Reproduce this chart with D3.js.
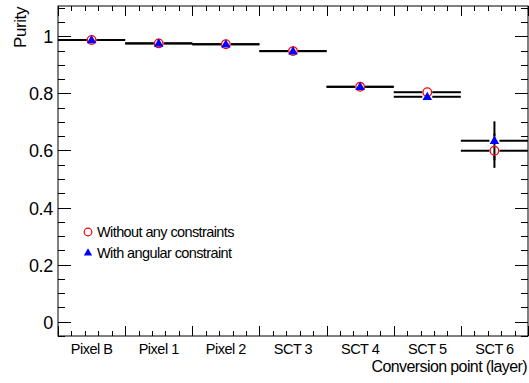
<!DOCTYPE html>
<html>
<head>
<meta charset="utf-8">
<script src="https://cdn.jsdelivr.net/npm/d3@7"></script>
<style>
  html, body { margin: 0; padding: 0; background: #fff; }
  svg { display: block; font-family: "Liberation Sans", Arial, Helvetica, sans-serif; }
</style>
</head>
<body>
<svg id="chart" width="529" height="383"></svg>
<script>
// Conversion layers
const layers = ["Pixel B", "Pixel 1", "Pixel 2", "SCT 3", "SCT 4", "SCT 5", "SCT 6"];
// Purity without any constraints
const purityNoConstraint = [0.987, 0.975, 0.972, 0.948, 0.823, 0.804, 0.599];
const errNoConstraint    = [0.002, 0.002, 0.002, 0.003, 0.005, 0.006, 0.060];
// Purity with angular constraint
const purityAngular = [0.987, 0.975, 0.972, 0.948, 0.823, 0.788, 0.634];
const errAngular    = [0.002, 0.002, 0.002, 0.003, 0.005, 0.006, 0.068];
const yTicks = [0, 0.2, 0.4, 0.6, 0.8, 1];
const yTickLabels = ["0", "0.2", "0.4", "0.6", "0.8", "1"];

const svg = d3.select("#chart");
const m = { left: 58, right: 528, top: 6, bottom: 336 };

const x = d3.scaleLinear().domain([0, layers.length]).range([m.left, m.right]);
const y = d3.scaleLinear().domain([-0.05, 1.106]).range([m.bottom, m.top]);

// Frame
svg.append("rect")
  .attr("x", m.left).attr("y", m.top)
  .attr("width", m.right - m.left).attr("height", m.bottom - m.top)
  .attr("fill", "none").attr("stroke", "#000").attr("stroke-width", 1);

// X ticks (bottom and top), 5 subdivisions per bin
const xMinor = d3.range(0, layers.length * 5 + 1).map(i => i / 5);
const tickG = svg.append("g").attr("stroke", "#000").attr("stroke-width", 1);
xMinor.forEach(v => {
  const major = Math.abs(v - Math.round(v)) < 1e-6;
  const len = major ? 10 : 5;
  const px = Math.round(x(v)) + 0.5;
  tickG.append("line").attr("x1", px).attr("x2", px).attr("y1", m.bottom).attr("y2", m.bottom - len);
  tickG.append("line").attr("x1", px).attr("x2", px).attr("y1", m.top).attr("y2", m.top + len);
});

// Y ticks (left and right), minor every 0.05
const yMinor = d3.range(-1, 23).map(i => i * 0.05).filter(v => v >= -0.05 && v <= 1.1);
yMinor.forEach(v => {
  const major = Math.abs(v / 0.2 - Math.round(v / 0.2)) < 1e-6 && v >= 0;
  const len = major ? 13 : 7;
  const py = Math.round(y(v)) + 0.5;
  tickG.append("line").attr("x1", m.left).attr("x2", m.left + len).attr("y1", py).attr("y2", py);
  tickG.append("line").attr("x1", m.right).attr("x2", m.right - len).attr("y1", py).attr("y2", py);
});

// Y tick labels
svg.append("g").selectAll("text").data(yTicks).join("text")
  .attr("x", 53).attr("y", d => y(d) + 7)
  .attr("text-anchor", "end").attr("font-size", 18).attr("letter-spacing", -0.3)
  .text((d, i) => yTickLabels[i]);

// X category labels
svg.append("g").selectAll("text").data(layers).join("text")
  .attr("x", (d, i) => x(i + 0.5)).attr("y", 354)
  .attr("text-anchor", "middle").attr("font-size", 14.5).attr("letter-spacing", -0.5)
  .text(d => d);

// Axis titles
svg.append("text").attr("x", 527).attr("y", 372)
  .attr("text-anchor", "end").attr("font-size", 16).attr("letter-spacing", -0.6)
  .text("Conversion point (layer)");
svg.append("text")
  .attr("transform", "translate(26,7) rotate(-90)")
  .attr("text-anchor", "end").attr("font-size", 17).attr("letter-spacing", -0.4)
  .text("Purity");

// Horizontal bin-width bars and vertical error bars, broken around the marker
function drawSeries(vals, errs, gap) {
  const g = svg.append("g").attr("stroke", "#000").attr("stroke-width", 2).attr("fill", "none");
  vals.forEach((v, i) => {
    const cx = x(i + 0.5), cy = y(v);
    g.append("line").attr("x1", x(i)).attr("x2", cx - gap).attr("y1", cy).attr("y2", cy);
    g.append("line").attr("x1", cx + gap).attr("x2", x(i + 1)).attr("y1", cy).attr("y2", cy);
    const top = y(v + errs[i]), bot = y(v - errs[i]);
    if (cy - top > gap) g.append("line").attr("x1", cx).attr("x2", cx).attr("y1", top).attr("y2", cy - gap);
    if (bot - cy > gap) g.append("line").attr("x1", cx).attr("x2", cx).attr("y1", cy + gap).attr("y2", bot);
  });
}
drawSeries(purityNoConstraint, errNoConstraint, 5);
drawSeries(purityAngular, errAngular, 5);

const tri = d3.symbol().type(d3.symbolTriangle).size(40);

// Markers: open red circles
svg.append("g").selectAll("circle").data(purityNoConstraint).join("circle")
  .attr("cx", (d, i) => x(i + 0.5)).attr("cy", d => y(d)).attr("r", 4.3)
  .attr("fill", "none").attr("stroke", "#ff0000").attr("stroke-width", 1.3);

// Markers: blue triangles
svg.append("g").selectAll("path").data(purityAngular).join("path")
  .attr("d", tri)
  .attr("transform", (d, i) => `translate(${x(i + 0.5)},${y(d) + 0.5})`)
  .attr("fill", "#0000ff");

// Legend
const legend = svg.append("g");
legend.append("circle").attr("cx", 88).attr("cy", 232).attr("r", 3.8)
  .attr("fill", "none").attr("stroke", "#ff0000").attr("stroke-width", 1.2);
legend.append("path").attr("d", d3.symbol().type(d3.symbolTriangle).size(30))
  .attr("transform", "translate(88,253)").attr("fill", "#0000ff");
legend.append("text").attr("x", 97).attr("y", 237).attr("font-size", 14.5).attr("letter-spacing", -0.6)
  .text("Without any constraints");
legend.append("text").attr("x", 97).attr("y", 258).attr("font-size", 14.5).attr("letter-spacing", -0.6)
  .text("With angular constraint");
</script>
</body>
</html>
